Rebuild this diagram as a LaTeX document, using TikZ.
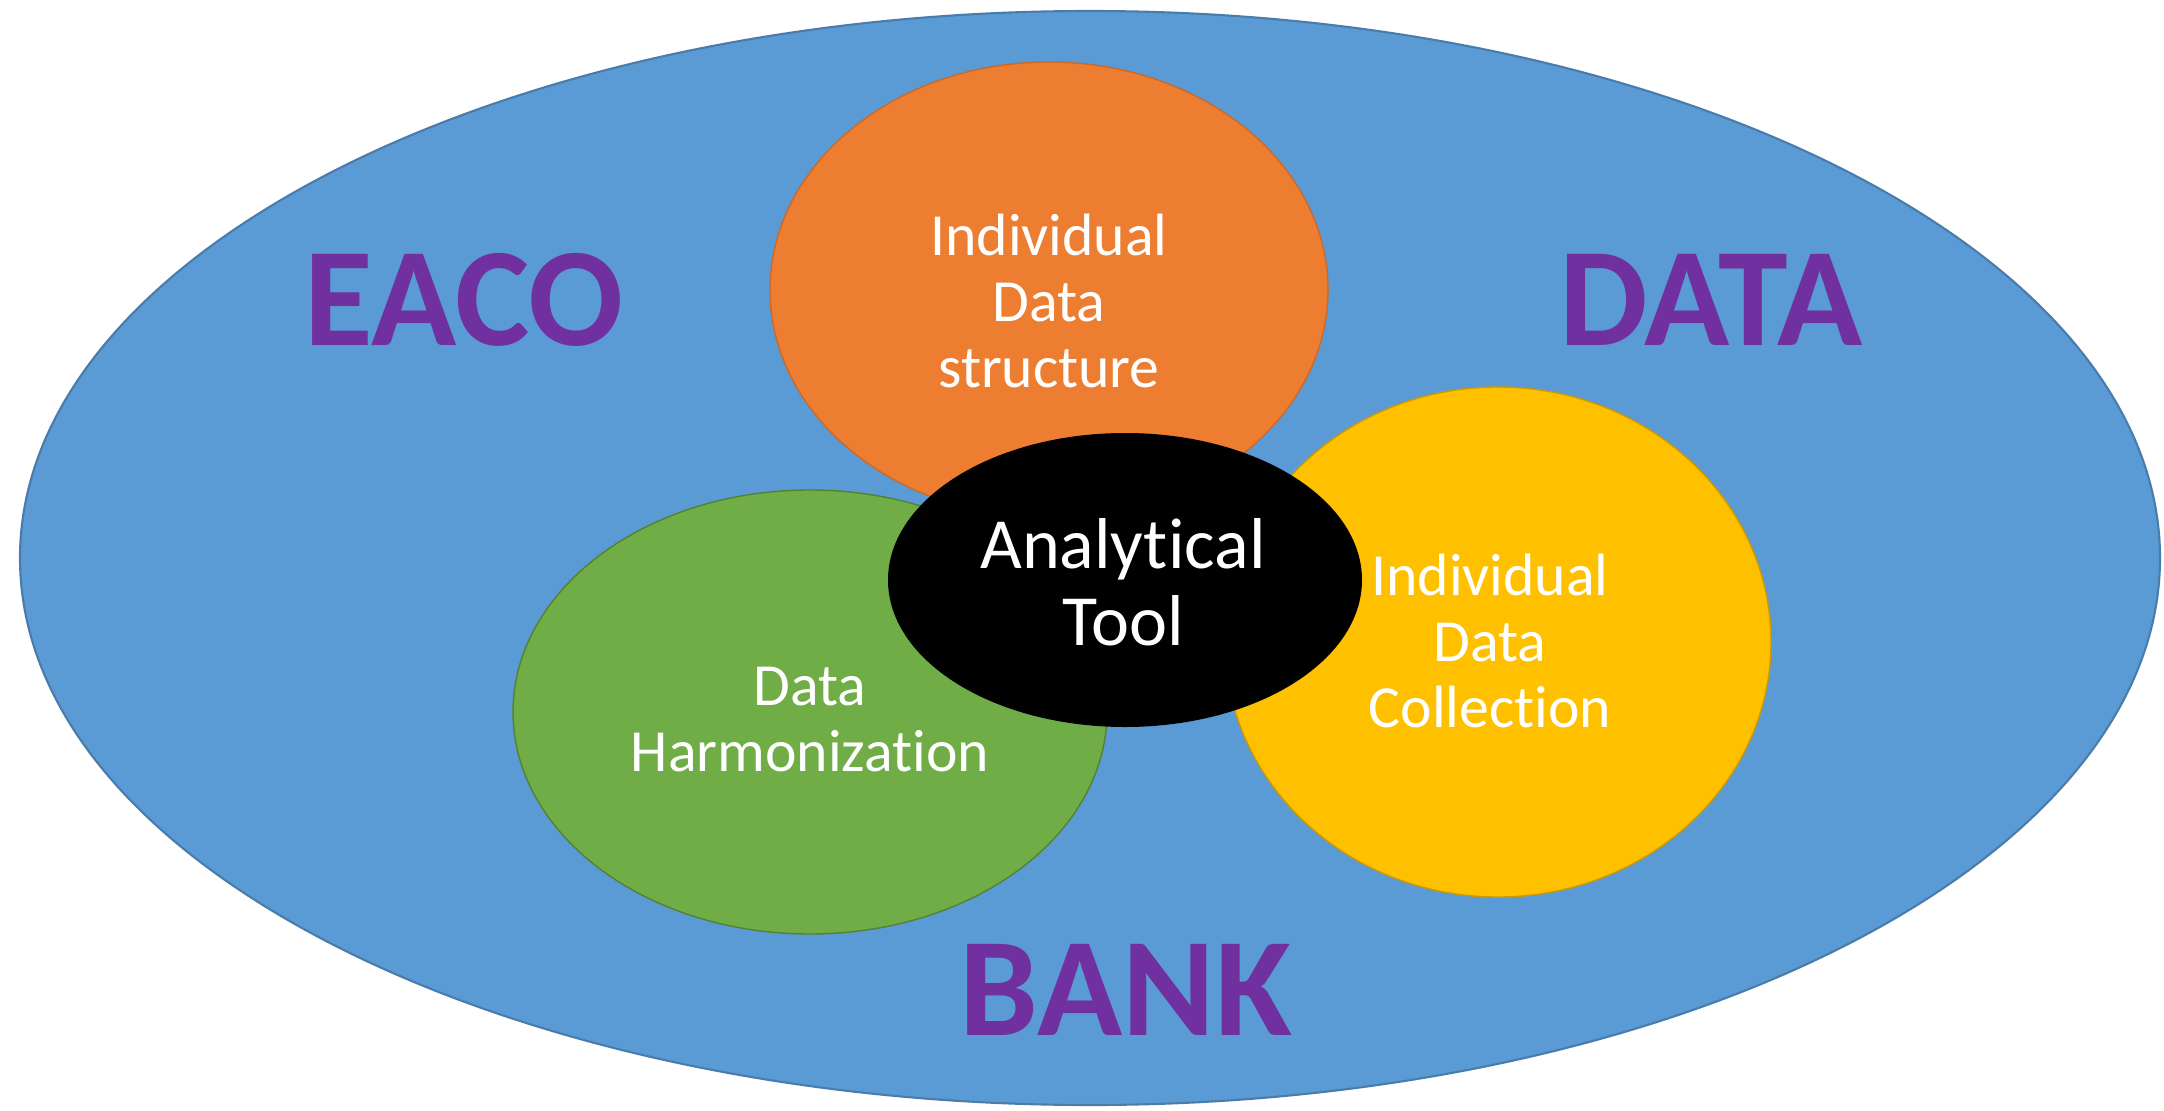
\documentclass[tikz,border=0pt]{standalone}
\usepackage{fontspec}
\setmainfont{Carlito}[Ligatures = NoCommon]
\usetikzlibrary{shapes.geometric}
\definecolor{bankblue}{HTML}{5B9BD5}
\definecolor{structorange}{HTML}{ED7D31}
\definecolor{harmgreen}{HTML}{70AD47}
\definecolor{collyellow}{HTML}{FFC000}
\definecolor{bankpurple}{HTML}{7030A0}
\tikzset{
    bubble/.style = {ellipse, inner sep = 0pt},
    bubbletext/.style = {align = center, text = white, inner sep = 0pt,
        font = \fontsize{17}{18.8}\selectfont},
    banktext/.style = {anchor = base, text = bankpurple,
        font = \fontsize{40}{42}\selectfont\bfseries}
}

\begin{document}
\begin{tikzpicture}
    \useasboundingbox (0,0) rectangle (21.64,11.10);
    \node[bubble, fill = bankblue, draw = bankblue!80!black, line width = 0.6pt,
        minimum width = 21.40cm, minimum height = 10.94cm] (bank) at (10.90,5.52) {};
    \node[bubble, fill = structorange, draw = structorange!85!black,
        minimum width = 5.58cm, minimum height = 4.56cm] (struct) at (10.49,8.20) {};
    \node[bubble, fill = harmgreen, draw = harmgreen!75!black,
        minimum width = 5.94cm, minimum height = 4.44cm] (harm) at (8.10,3.98) {};
    \node[bubble, fill = collyellow, draw = collyellow!80!black,
        minimum width = 5.46cm, minimum height = 5.10cm] (coll) at (14.98,4.68) {};
    \node[bubble, fill = black,
        minimum width = 4.74cm, minimum height = 2.94cm] (tool) at (11.25,5.30) {};
    \node[bubbletext] (structtext) at (10.49,8.09) {Individual\\Data\\structure};
    \node[bubbletext] (harmtext) at (8.10,3.90) {Data\\Harmonization};
    \node[bubbletext] (colltext) at (14.90,4.69) {Individual\\Data\\Collection};
    \node[bubbletext, font = \fontsize{20.5}{21.8}\selectfont] (tooltext) at (11.23,5.28)
        {Analytical\\Tool};
    \node[banktext] (eaco) at (4.64,7.65) {EACO};
    \node[banktext] (data) at (17.11,7.65) {DATA};
    \node[banktext] (bk) at (11.26,0.75) {BANK};
\end{tikzpicture}
\end{document}
